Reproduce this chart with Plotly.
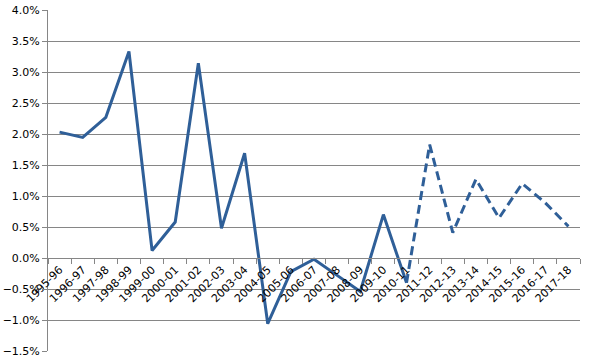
import plotly.graph_objects as go

years = ["1995-96", "1996-97", "1997-98", "1998-99", "1999-00", "2000-01", "2001-02",
         "2002-03", "2003-04", "2004-05", "2005-06", "2006-07", "2007-08", "2008-09",
         "2009-10", "2010-11", "2011-12", "2012-13", "2013-14", "2014-15", "2015-16",
         "2016-17", "2017-18"]
actual = [2.03, 1.945, 2.27, 3.33, 0.12, 0.58, 3.14, 0.48, 1.69, -1.06, -0.22, -0.02,
          -0.28, -0.54, 0.70, -0.40]
forecast_years = years[15:]
forecast = [-0.40, 1.83, 0.41, 1.27, 0.645, 1.20, 0.89, 0.51]

color = "#2f5f98"
font = dict(family="DejaVu Sans, Verdana, sans-serif", size=11, color="#000000")

fig = go.Figure()
fig.add_trace(go.Scatter(x=years[:16], y=actual, mode="lines",
                         line=dict(color=color, width=3), showlegend=False))
fig.add_trace(go.Scatter(x=forecast_years, y=forecast, mode="lines",
                         line=dict(color=color, width=3, dash="9px,5px"), showlegend=False))

ymin, ymax = -1.5, 4.0
fig.update_layout(
    width=592, height=363,
    margin=dict(l=48, r=12, t=10, b=12),
    paper_bgcolor="white", plot_bgcolor="white",
    font=font,
    xaxis=dict(
        type="category", categoryorder="array", categoryarray=years,
        range=[-0.5, len(years) - 0.5], automargin=False,
        anchor="free", position=(0 - ymin) / (ymax - ymin),
        showline=True, linecolor="#868686", linewidth=1,
        ticks="outside", ticklen=5, tickcolor="#868686", tickson="boundaries",
        tickangle=-45, showgrid=False, tickfont=font,
    ),
    yaxis=dict(
        range=[ymin, ymax], dtick=0.5, tick0=0, automargin=False,
        tickformat=".1f", ticksuffix="%",
        showgrid=True, gridcolor="#868686", gridwidth=1,
        showline=True, linecolor="#868686", linewidth=1,
        ticks="outside", ticklen=5, tickcolor="#868686",
        zeroline=False, tickfont=font,
    ),
)
fig.write_html("out.html")
